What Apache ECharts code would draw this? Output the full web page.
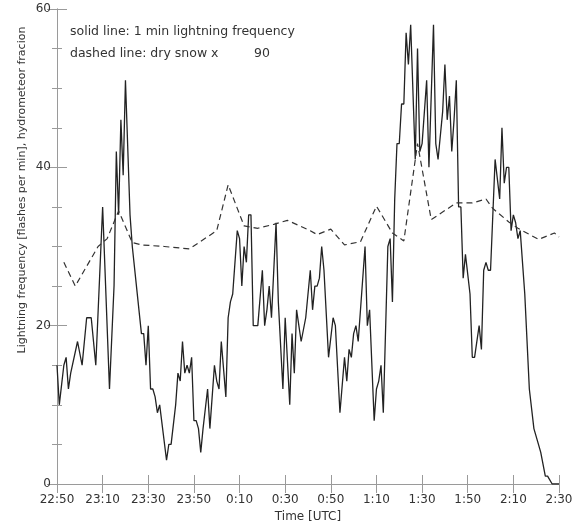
<!DOCTYPE html>
<html>
<head>
<meta charset="utf-8">
<script src="https://cdn.jsdelivr.net/npm/echarts@6/dist/echarts.min.js"></script>
<style>
  html, body { margin: 0; padding: 0; background: #fff; }
  #chart { width: 579px; height: 521px; }
</style>
</head>
<body>
<div id="chart"></div>
<script>
// minutes after 22:50 UTC, 1 min lightning frequency
const solidT = [0, 1, 3, 4, 5, 6, 9, 11, 13, 15, 17, 20, 23, 25, 26, 27, 28, 29, 30, 32,
    33, 37, 38, 39, 40, 41, 42, 43, 44, 45, 48, 49, 50, 52, 53, 54, 55, 56, 57, 58,
    59, 60, 61, 62, 63, 64, 66, 67, 69, 70, 71, 72, 74, 75, 76, 77, 79, 80, 81, 82,
    83, 84, 85, 86, 88, 90, 91, 92, 93, 94, 96, 97, 99, 100, 102, 103, 104, 105, 107, 109,
    111, 112, 113, 114, 115, 116, 117, 119, 121, 122, 124, 126, 127, 128, 129, 130, 131, 132, 135, 136,
    137, 139, 140, 141, 142, 143, 145, 146, 147, 148, 149, 150, 151, 152, 153, 154, 155, 157, 158, 159,
    160, 162, 163, 165, 166, 167, 169, 170, 171, 172, 173, 174, 175, 176, 177, 178, 179, 181, 182, 183,
    185, 186, 187, 188, 189, 190, 192, 194, 195, 196, 197, 198, 199, 200, 201, 202, 203, 205, 207, 209,
    211, 212, 214, 215, 217, 220];
const solidV = [15, 10, 15, 16, 12, 14, 18, 15, 21, 21, 15, 35, 12, 25, 42, 34, 46, 39, 51, 34,
    30, 19, 19, 15, 20, 12, 12, 11, 9, 10, 3, 5, 5, 10, 14, 13, 18, 14, 15, 14,
    16, 8, 8, 7, 4, 7, 12, 7, 15, 13, 12, 18, 11, 21, 23, 24, 32, 31, 25, 30,
    28, 34, 34, 20, 20, 27, 20, 22, 25, 21, 33, 23, 12, 21, 10, 19, 14, 22, 18, 21,
    27, 22, 25, 25, 26, 30, 27, 16, 21, 20, 9, 16, 13, 17, 16, 19, 20, 18, 30, 20,
    22, 8, 12, 13, 15, 9, 30, 31, 23, 36, 43, 43, 48, 48, 57, 53, 58, 41, 55, 42,
    43, 51, 40, 58, 43, 41, 47, 53, 46, 49, 42, 46, 51, 35, 35, 26, 29, 24, 16, 16,
    20, 17, 27, 28, 27, 27, 41, 36, 45, 38, 40, 40, 32, 34, 33, 31, 32, 24, 12, 7,
    5, 4, 1, 1, 0, 0];

// dry snow hydrometeor fraction x 90
const dashT = [3, 8, 18, 22, 27, 33, 37, 47, 58, 70, 75, 82, 88, 95, 101, 111, 114, 120, 126, 133,
    140, 147, 152, 158, 164, 175, 182, 188, 191, 198, 202, 211, 218, 220];
const dashV = [28, 25, 30, 31, 34.5, 30.5, 30.2, 30, 29.7, 32, 37.8, 32.6, 32.3, 32.8, 33.3, 32, 31.5, 32.2, 30.2, 30.6,
    35.1, 31.7, 30.7, 43, 33.4, 35.5, 35.5, 36, 34.8, 33.1, 32.3, 30.9, 31.7, 31.2];

const startMin = 22 * 60 + 50;
const timeLabel = (t) => {
    const m = (startMin + t) % 1440;
    const h = Math.floor(m / 60);
    const mm = m % 60;
    return h + ":" + (mm < 10 ? "0" : "") + mm;
};

const font = "DejaVu Sans";
const axisColor = "#9a9a9a";
const textColor = "#333";

const chart = echarts.init(document.getElementById("chart"), null, { width: 579, height: 521 });

const xBase = {
    type: "value", min: 0, max: 220, interval: 20,
    splitLine: { show: false },
    axisLine: { show: true, lineStyle: { color: axisColor, width: 1 } },
    axisTick: { show: true, inside: true, length: 9, lineStyle: { color: axisColor } },
};
const yBase = {
    type: "value", min: 0, max: 60, interval: 20,
    splitLine: { show: false },
    axisLine: { show: true, lineStyle: { color: axisColor, width: 1 } },
    axisTick: { show: true, inside: true, length: 10, lineStyle: { color: axisColor } },
    minorTick: { show: true, splitNumber: 4, length: 5, lineStyle: { color: axisColor } },
};

chart.setOption({
    animation: false,
    backgroundColor: "#fff",
    grid: { left: 57, right: 20, top: 9, bottom: 37, containLabel: false, outerBoundsMode: "none" },
    xAxis: [
        Object.assign({}, xBase, {
            position: "bottom",
            name: "Time [UTC]", nameLocation: "middle", nameGap: 23,
            nameTextStyle: { fontFamily: font, fontSize: 12, color: textColor },
            axisLabel: { formatter: timeLabel, margin: 10, fontFamily: font, fontSize: 12, color: textColor },
        }),
        Object.assign({}, xBase, { position: "top", axisLabel: { show: false } }),
    ],
    yAxis: [
        Object.assign({}, yBase, {
            position: "left",
            axisLabel: { margin: 6, fontFamily: font, fontSize: 12, color: textColor },
        }),
        Object.assign({}, yBase, { position: "right", axisLabel: { show: false } }),
    ],
    graphic: [
        {
            type: "text", left: 70, top: 25,
            style: { text: "solid line: 1 min lightning frequency", font: "12.5px " + font, fill: textColor },
        },
        {
            type: "text", left: 70, top: 47,
            style: { text: "dashed line: dry snow x", font: "12.5px " + font, fill: textColor },
        },
        {
            type: "text", left: 254, top: 47,
            style: { text: "90", font: "12.5px " + font, fill: textColor },
        },
        {
            type: "text", x: 22, y: 190, rotation: Math.PI / 2,
            style: {
                text: "Lightning frequency [flashes per min], hydrometeor fracion",
                font: "11px " + font, fill: textColor, align: "center", verticalAlign: "middle",
            },
        },
    ],
    series: [
        {
            type: "line",
            data: solidT.map((t, i) => [t, solidV[i]]),
            showSymbol: false,
            lineStyle: { color: "#222", width: 1.3 },
        },
        {
            type: "line",
            data: dashT.map((t, i) => [t, dashV[i]]),
            showSymbol: false,
            lineStyle: { color: "#333", width: 1.2, type: [6, 4] },
        },
    ],
});
</script>
</body>
</html>
